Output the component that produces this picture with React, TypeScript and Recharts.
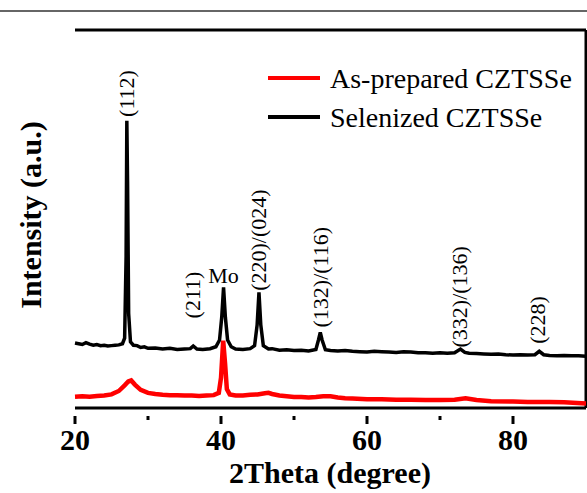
import { Legend, Line, LineChart, ReferenceDot, ReferenceLine, XAxis, YAxis } from 'recharts'

// 2theta (degree) / intensity (a.u.)
const selenizedTheta = [
  20, 20.5, 21, 21.5, 22, 22.5, 23, 23.5, 24, 24.5, 25, 25.5, 26, 26.5, 26.8, 27.0, 27.1, 27.2, 27.35, 27.6,
  28, 28.5, 29, 29.5, 30, 31, 32, 33, 34, 35, 35.8, 36.2, 36.7, 37.5, 38.5, 39.3, 39.8, 40.1, 40.35, 40.6,
  40.9, 41.4, 42, 43, 44, 44.6, 44.95, 45.2, 45.45, 45.8, 46.5, 47, 48, 49, 50, 51, 52, 53, 53.35, 53.6,
  53.85, 54.3, 55, 56, 57, 58, 59, 60, 61, 62, 63, 64, 65, 66, 67, 68, 69, 70, 71, 72,
  72.8, 73.4, 74, 75, 76, 77, 78, 79, 80, 81, 82, 83, 83.6, 84.2, 85, 86, 87, 88, 89, 90,
]
const selenizedIntensity = [
  17.2, 17.0, 16.8, 17.3, 16.9, 16.6, 16.8, 16.5, 16.6, 16.4, 16.5, 16.6, 16.7, 17.0, 18.5, 40, 76, 60, 25, 17.5,
  16.6, 16.5, 16.0, 16.2, 15.8, 15.9, 15.6, 15.8, 15.5, 15.6, 15.7, 16.4, 15.6, 15.5, 15.7, 16.2, 18, 24, 31.9, 24,
  18, 16.2, 15.6, 15.5, 15.7, 16.5, 22, 30.6, 22, 16.5, 15.6, 15.7, 15.3, 15.4, 15.2, 15.3, 15.1, 15.5, 18, 20,
  18, 15.4, 15.2, 15.1, 15.2, 15.0, 14.9, 14.8, 15.0, 14.9, 14.8, 14.7, 14.9, 14.8, 14.6, 14.6, 14.5, 14.6, 14.5, 14.6,
  15.6, 14.7, 14.5, 14.4, 14.3, 14.2, 14.3, 14.1, 14.0, 14.1, 14.0, 14.1, 15.0, 14.1, 13.9, 13.8, 13.9, 13.8, 13.8, 13.7,
]

const asPreparedTheta = [
  20, 21, 22, 23, 24, 25, 26, 26.8, 27.3, 27.7, 28.2, 29, 30, 31, 32, 33, 34, 35, 36, 37,
  38, 39, 39.7, 40.0, 40.3, 40.55, 40.8, 41.2, 42, 43, 44, 45, 46, 46.5, 47, 48, 49, 50, 51, 52,
  53, 54, 55, 56, 57, 58, 60, 62, 64, 66, 68, 70, 72, 73.5, 75, 77, 80, 82, 85, 87, 90,
]
const asPreparedIntensity = [
  3.0, 3.1, 3.0, 3.2, 3.3, 3.6, 4.5, 6.0, 7.0, 7.3, 6.2, 4.8, 4.0, 3.7, 3.5, 3.4, 3.4, 3.3, 3.3, 3.2,
  3.3, 3.4, 4.0, 8.0, 17.8, 12, 5.0, 3.6, 3.3, 3.3, 3.5, 3.6, 3.9, 4.0, 3.7, 3.3, 3.1, 2.9, 2.9, 2.8,
  2.9, 3.1, 3.1, 2.8, 2.6, 2.5, 2.3, 2.3, 2.2, 2.2, 2.1, 2.1, 2.2, 2.6, 2.1, 1.8, 1.7, 1.6, 1.6, 1.5, 1.2,
]

// peak labels: 2theta, intensity where the label starts, text
const peakTheta = [27.1, 36.1, 40.35, 45.2, 53.6, 72.7, 83.4]
const peakLabelAt = [77, 23.7, 33, 31, 21.3, 16, 17]
const peakText = ['(112)', '(211)', 'Mo', '(220)/(024)', '(132)/(116)', '(332)/(136)', '(228)']

const xTicks = [20, 30, 40, 50, 60, 70, 80]
const majorTicks = [20, 40, 60, 80]

const seriesNames = ['As-prepared CZTSSe', 'Selenized CZTSSe']
const seriesColors = ['#ff0000', '#000000']

const selenized = selenizedTheta.map((t, i) => ({ theta: t, intensity: selenizedIntensity[i] }))
const asPrepared = asPreparedTheta.map((t, i) => ({ theta: t, intensity: asPreparedIntensity[i] }))
const peaks = peakTheta.map((t, i) => ({ theta: t, at: peakLabelAt[i], text: peakText[i] }))

const SERIF = '"Liberation Serif", "Times New Roman", serif'

function XTick({ x, y, payload }: any) {
  const major = majorTicks.includes(payload.value)
  return (
    <g>
      <line x1={x} x2={x} y1={y} y2={y + (major ? 8 : 4)} stroke="#000" strokeWidth={3} />
      {major && (
        <text x={x} y={y + 23} textAnchor="middle" dominantBaseline="central" fontFamily={SERIF} fontWeight="bold" fontSize={30} fill="#000">
          {payload.value}
        </text>
      )}
    </g>
  )
}

function PeakLabel({ cx, cy, text }: any) {
  if (text === 'Mo') {
    return (
      <text x={cx} y={cy} textAnchor="middle" fontFamily={SERIF} fontSize={22} fill="#000">
        {text}
      </text>
    )
  }
  return (
    <text
      x={cx}
      y={cy}
      transform={`rotate(-90 ${cx} ${cy})`}
      textAnchor="start"
      dominantBaseline="central"
      fontFamily={SERIF}
      fontSize={22}
      fill="#000"
    >
      {text}
    </text>
  )
}

function LegendBox() {
  return (
    <svg width={322} height={80}>
      {seriesNames.map((name, i) => (
        <g key={name}>
          <line x1={3} x2={55} y1={18 + i * 39} y2={18 + i * 39} stroke={seriesColors[i]} strokeWidth={4} />
          <text x={65} y={18 + i * 39} dominantBaseline="central" fontFamily={SERIF} fontSize={28} fill="#000">
            {name}
          </text>
        </g>
      ))}
    </svg>
  )
}

export default function App() {
  return (
    <div style={{ position: 'fixed', left: 0, top: 0, width: 587, height: 493, background: '#fff' }}>
      <div style={{ position: 'absolute', left: 0, top: 10, width: 587, height: 2, background: '#666' }} />
      <LineChart width={587} height={493} margin={{ top: 30, right: 1, bottom: 25, left: 75 }}>
        <XAxis
          dataKey="theta"
          type="number"
          domain={[20, 90]}
          ticks={xTicks}
          interval={0}
          allowDuplicatedCategory={false}
          height={60}
          axisLine={{ stroke: '#000', strokeWidth: 3 }}
          tickLine={false}
          tick={<XTick />}
        />
        <YAxis
          type="number"
          domain={[0, 100]}
          width={0}
          tick={false}
          tickLine={false}
          axisLine={{ stroke: '#000', strokeWidth: 3 }}
        />
        <ReferenceLine y={100} stroke="#000" strokeWidth={3} />
        <ReferenceLine x={90} stroke="#000" strokeWidth={3} />
        <Line
          data={asPrepared}
          dataKey="intensity"
          name={seriesNames[0]}
          stroke={seriesColors[0]}
          strokeWidth={4.5}
          dot={false}
          isAnimationActive={false}
        />
        <Line
          data={selenized}
          dataKey="intensity"
          name={seriesNames[1]}
          stroke={seriesColors[1]}
          strokeWidth={3.5}
          dot={false}
          isAnimationActive={false}
        />
        {peaks.map((p) => (
          <ReferenceDot
            key={p.text}
            x={p.theta}
            y={p.at}
            r={0}
            shape={(props: any) => <PeakLabel {...props} text={p.text} />}
          />
        ))}
        <Legend
          layout="horizontal"
          verticalAlign="middle"
          align="center"
          content={<LegendBox />}
          wrapperStyle={{ position: 'absolute', left: 265, top: 60, width: 322, height: 80 }}
        />
      </LineChart>
      <div
        style={{
          position: 'absolute',
          left: 330,
          top: 473,
          transform: 'translate(-50%, -50%)',
          fontFamily: SERIF,
          fontWeight: 'bold',
          fontSize: 30,
          whiteSpace: 'nowrap',
          color: '#000',
        }}
      >
        2Theta (degree)
      </div>
      <div
        style={{
          position: 'absolute',
          left: 31,
          top: 215,
          transform: 'translate(-50%, -50%) rotate(-90deg)',
          fontFamily: SERIF,
          fontWeight: 'bold',
          fontSize: 30,
          whiteSpace: 'nowrap',
          color: '#000',
        }}
      >
        Intensity (a.u.)
      </div>
    </div>
  )
}
